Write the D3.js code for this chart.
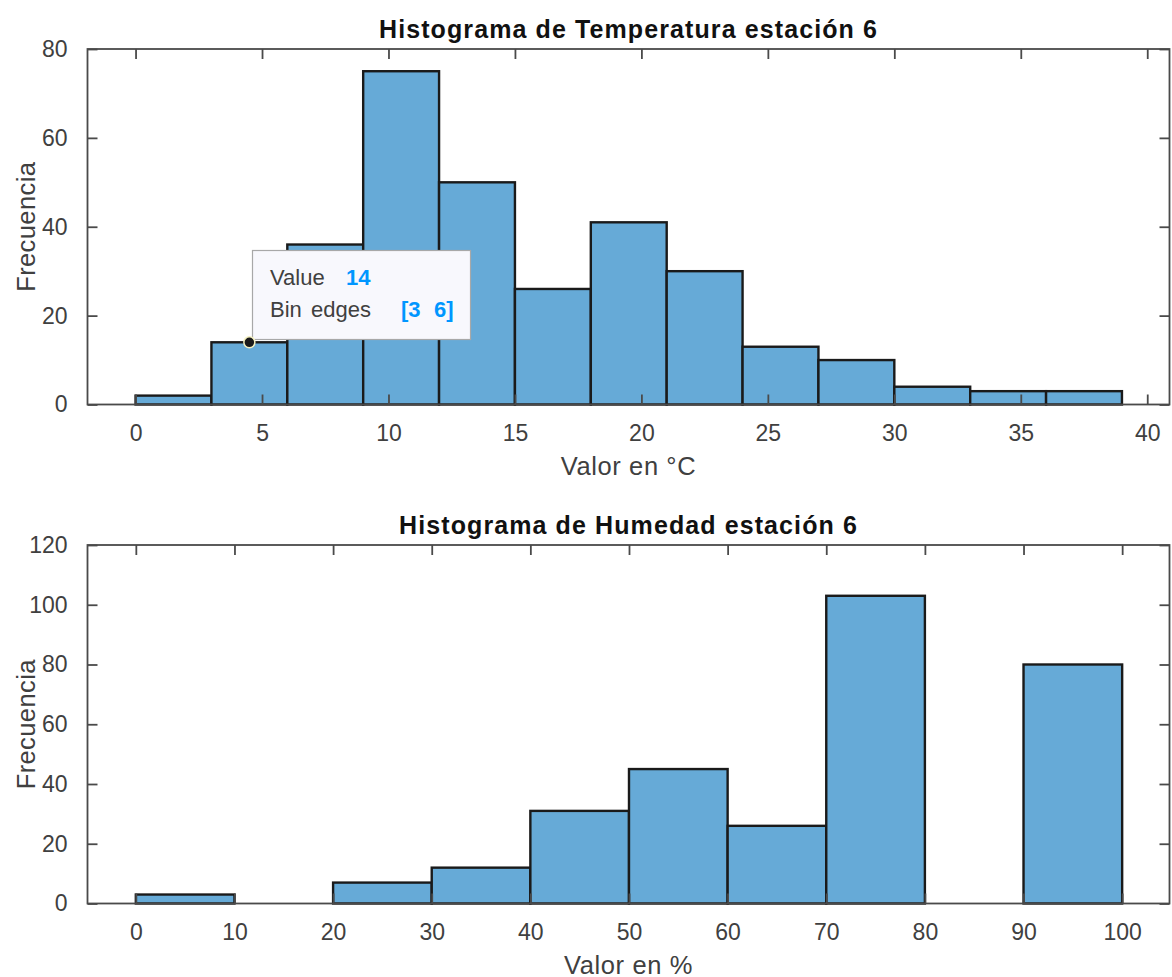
<!DOCTYPE html>
<html lang="es">
<head>
    <meta charset="UTF-8">
    <title>Histogramas estación 6</title>
    <script src="https://d3js.org/d3.v7.min.js"></script>
    <style>
        body {
            margin: 0;
            background: #fff;
            font-family: Arial, "Liberation Sans", Helvetica, sans-serif;
        }
    </style>
</head>
<body>
    <div id="chart"></div>

    <script>
        // temperatura (bins de 3 °C)
        const tempEdges = [0, 3, 6, 9, 12, 15, 18, 21, 24, 27, 30, 33, 36, 39];
        const tempCounts = [2, 14, 36, 75, 50, 26, 41, 30, 13, 10, 4, 3, 3];
        const tempXTicks = [0, 5, 10, 15, 20, 25, 30, 35, 40];
        const tempYTicks = [0, 20, 40, 60, 80];

        // humedad (bins de 10 %)
        const humEdges = [0, 10, 20, 30, 40, 50, 60, 70, 80, 90, 100];
        const humCounts = [3, 0, 7, 12, 31, 45, 26, 103, 0, 80];
        const humXTicks = [0, 10, 20, 30, 40, 50, 60, 70, 80, 90, 100];
        const humYTicks = [0, 20, 40, 60, 80, 100, 120];

        // datatip
        const tipBin = [3, 6];
        const tipValue = 14;

        const width = 1172;
        const height = 977;
        const axisColor = "#4a4a4a";
        const textColor = "#404040";

        const svg = d3.select("#chart")
            .append("svg")
            .attr("width", width)
            .attr("height", height)
            .attr("viewBox", [0, 0, width, height]);

        function renderHistogram(opts) {
            const { top, bottom, xDomain, yDomain, edges, counts, xTicks, yTicks, title, xLabel } = opts;
            const left = 87.5, right = 1169.5;

            const x = d3.scaleLinear().domain(xDomain).range([left, right]);
            const y = d3.scaleLinear().domain(yDomain).range([bottom, top]);

            const bins = counts.map((c, i) => ({ x0: edges[i], x1: edges[i + 1], count: c }))
                .filter(d => d.count > 0);

            const g = svg.append("g");

            g.selectAll("rect.bar")
                .data(bins)
                .join("rect")
                .attr("class", "bar")
                .attr("x", d => x(d.x0))
                .attr("y", d => y(d.count))
                .attr("width", d => x(d.x1) - x(d.x0))
                .attr("height", d => y(0) - y(d.count))
                .attr("fill", "#66aad7")
                .attr("stroke", "#1a1a1a")
                .attr("stroke-width", 2.4);

            // ticks inward on all four sides
            const tickLen = 10;
            const bottomAxis = d3.axisBottom(x).tickValues(xTicks).tickSize(-tickLen).tickSizeOuter(0).tickPadding(20);
            const topAxis = d3.axisTop(x).tickValues(xTicks).tickSize(-tickLen).tickSizeOuter(0).tickFormat("");
            const leftAxis = d3.axisLeft(y).tickValues(yTicks).tickSize(-tickLen).tickSizeOuter(0).tickPadding(20);
            const rightAxis = d3.axisRight(y).tickValues(yTicks).tickSize(-tickLen).tickSizeOuter(0).tickFormat("");

            [[bottomAxis, `translate(0,${bottom})`], [topAxis, `translate(0,${top})`],
             [leftAxis, `translate(${left},0)`], [rightAxis, `translate(${right},0)`]].forEach(([ax, tr]) => {
                const a = g.append("g").attr("transform", tr).call(ax);
                a.select(".domain").remove();
                a.selectAll(".tick line").attr("stroke", axisColor).attr("stroke-width", 1.8);
                a.selectAll(".tick text")
                    .attr("fill", textColor)
                    .style("font-size", "23px")
                    .style("font-family", "Arial, 'Liberation Sans', sans-serif");
            });

            g.append("rect")
                .attr("x", left)
                .attr("y", top)
                .attr("width", right - left)
                .attr("height", bottom - top)
                .attr("fill", "none")
                .attr("stroke", axisColor)
                .attr("stroke-width", 1.8);

            g.append("text")
                .attr("x", (left + right) / 2)
                .attr("y", top - 11)
                .attr("text-anchor", "middle")
                .attr("fill", "#111")
                .style("font-size", "25px")
                .style("font-weight", "bold")
                .style("letter-spacing", "1.1px")
                .text(title);

            g.append("text")
                .attr("x", (left + right) / 2)
                .attr("y", bottom + 70)
                .attr("text-anchor", "middle")
                .attr("fill", textColor)
                .style("font-size", "25.5px")
                .style("letter-spacing", "0.6px")
                .text(xLabel);

            g.append("text")
                .attr("transform", `translate(35,${(top + bottom) / 2}) rotate(-90)`)
                .attr("text-anchor", "middle")
                .attr("fill", textColor)
                .style("font-size", "25.5px")
                .style("letter-spacing", "0.4px")
                .text("Frecuencia");

            return { x, y };
        }

        const tempScales = renderHistogram({
            top: 49, bottom: 404.5,
            xDomain: [-1.9, 40.88], yDomain: [0, 80],
            edges: tempEdges, counts: tempCounts,
            xTicks: tempXTicks, yTicks: tempYTicks,
            title: "Histograma de Temperatura estación 6",
            xLabel: "Valor en °C"
        });

        renderHistogram({
            top: 545, bottom: 903.5,
            xDomain: [-4.9, 104.8], yDomain: [0, 120],
            edges: humEdges, counts: humCounts,
            xTicks: humXTicks, yTicks: humYTicks,
            title: "Histograma de Humedad estación 6",
            xLabel: "Valor en %"
        });

        // datatip on the [3 6] bin
        const tip = svg.append("g");
        const px = tempScales.x((tipBin[0] + tipBin[1]) / 2);
        const py = tempScales.y(tipValue);

        tip.append("rect")
            .attr("x", 252.5)
            .attr("y", 250.5)
            .attr("width", 218)
            .attr("height", 89)
            .attr("fill", "#f8f8fd")
            .attr("stroke", "#a8a8a8")
            .attr("stroke-width", 1.2);

        const line1 = tip.append("text").attr("x", 270).attr("y", 285).style("font-size", "22px");
        line1.append("tspan").attr("fill", textColor).text("Value");
        line1.append("tspan").attr("x", 346).attr("fill", "#0096ff").style("font-weight", "bold").text(tipValue);

        const line2 = tip.append("text").attr("x", 270).attr("y", 317).style("font-size", "22px");
        line2.append("tspan").attr("fill", textColor).text("Bin");
        line2.append("tspan").attr("x", 311).attr("fill", textColor).text("edges");
        line2.append("tspan").attr("x", 401).attr("fill", "#0096ff").style("font-weight", "bold").text(`[${tipBin[0]}`);
        line2.append("tspan").attr("x", 434).attr("fill", "#0096ff").style("font-weight", "bold").text(`${tipBin[1]}]`);

        tip.append("circle")
            .attr("cx", px)
            .attr("cy", py)
            .attr("r", 5.5)
            .attr("fill", "#1a1a1a")
            .attr("stroke", "#f4f0c0")
            .attr("stroke-width", 1.5);
    </script>
</body>
</html>
